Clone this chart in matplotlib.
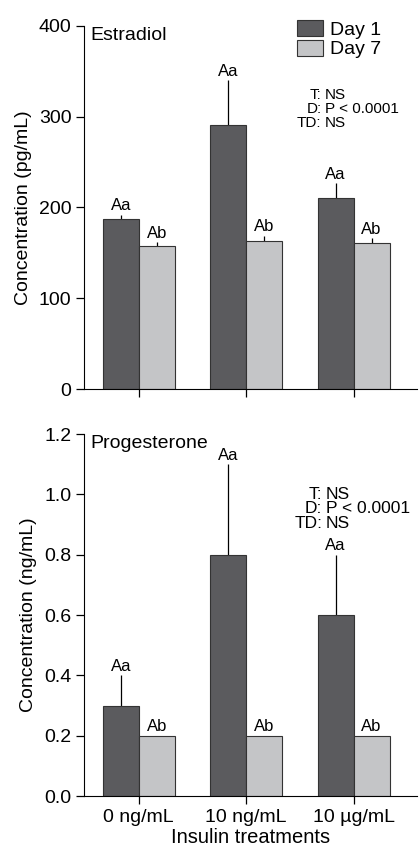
import numpy as np
import matplotlib
matplotlib.use("Agg")
import matplotlib.pyplot as plt

plt.rcParams['font.family'] = ['Liberation Sans', 'DejaVu Sans']

treatments = ['0 ng/mL', '10 ng/mL', '10 µg/mL']
series = ['Day 1', 'Day 7']

# estradiol (pg/mL): means and upper error
e2_day1 = [187, 291, 210]
e2_day1_err = [5, 49, 17]
e2_day7 = [158, 163, 161]
e2_day7_err = [4, 6, 5]
e2_letters_day1 = ['Aa', 'Aa', 'Aa']
e2_letters_day7 = ['Ab', 'Ab', 'Ab']

# progesterone (ng/mL)
p4_day1 = [0.3, 0.8, 0.6]
p4_day1_err = [0.1, 0.3, 0.2]
p4_day7 = [0.2, 0.2, 0.2]
p4_day7_err = [0, 0, 0]
p4_letters_day1 = ['Aa', 'Aa', 'Aa']
p4_letters_day7 = ['Ab', 'Ab', 'Ab']

stats_keys = ['T:', 'D:', 'TD:']
stats_vals = ['NS', 'P < 0.0001', 'NS']

dark = '#5b5b5e'
light = '#c4c5c7'
W, H = 419, 846

fig = plt.figure(figsize=(W / 100, H / 100), dpi=100)
ax1 = fig.add_axes([84 / W, 1 - 389 / H, 333 / W, 363 / H])
ax2 = fig.add_axes([84 / W, 1 - 796 / H, 333 / W, 362 / H])

x = np.arange(len(treatments))
bw = 0.335


def draw_panel(ax, d1, e1, d7, e7, l1, l7, ylim, yticks, fmt, ylabel, title,
               stat_y, stat_x, stat_size):
    b1 = ax.bar(x - bw / 2, d1, bw, color=dark, edgecolor='#333333', linewidth=0.8,
                label=series[0], zorder=2)
    b7 = ax.bar(x + bw / 2, d7, bw, color=light, edgecolor='#333333', linewidth=0.8,
                label=series[1], zorder=2)
    ax.errorbar(x - bw / 2, d1, yerr=[np.zeros(3), e1], fmt='none', ecolor='black',
                elinewidth=0.9, capsize=0, zorder=1)
    ax.errorbar(x + bw / 2, d7, yerr=[np.zeros(3), e7], fmt='none', ecolor='black',
                elinewidth=0.9, capsize=0, zorder=1)
    for i in range(3):
        ax.annotate(l1[i], (x[i] - bw / 2, d1[i] + e1[i]), xytext=(0, 1),
                    textcoords='offset points', ha='center', va='bottom', fontsize=12)
        ax.annotate(l7[i], (x[i] + bw / 2, d7[i] + e7[i]), xytext=(0, 1),
                    textcoords='offset points', ha='center', va='bottom', fontsize=12)
    ax.set_xlim(-0.51, 2.59)
    ax.set_ylim(*ylim)
    ax.set_yticks(yticks)
    ax.set_yticklabels([fmt.format(v) for v in yticks])
    ax.set_xticks(x)
    ax.spines['top'].set_visible(False)
    ax.spines['right'].set_visible(False)
    ax.tick_params(direction='out', length=5.5, width=0.9, labelsize=14)
    ax.set_ylabel(ylabel, fontsize=14, labelpad=5)
    ax.text(0.018, 0.997, title, transform=ax.transAxes, ha='left', va='top', fontsize=14)
    for k, v, yy in zip(stats_keys, stats_vals, stat_y):
        ax.text(stat_x, yy, k, transform=ax.transAxes, ha='right', va='center',
                fontsize=stat_size)
        ax.text(stat_x + 0.011, yy, v, transform=ax.transAxes, ha='left', va='center',
                fontsize=stat_size)
    return b1, b7


draw_panel(ax1, e2_day1, e2_day1_err, e2_day7, e2_day7_err, e2_letters_day1,
           e2_letters_day7, (0, 400), [0, 100, 200, 300, 400], '{:.0f}',
           'Concentration (pg/mL)', 'Estradiol', [0.81, 0.772, 0.733], 0.713, 11)
ax1.set_xticklabels([])

draw_panel(ax2, p4_day1, p4_day1_err, p4_day7, p4_day7_err, p4_letters_day1,
           p4_letters_day7, (0, 1.2), [0, 0.2, 0.4, 0.6, 0.8, 1.0, 1.2], '{:.1f}',
           'Concentration (ng/mL)', 'Progesterone', [0.834, 0.793, 0.754], 0.716, 12.5)
ax2.set_xticklabels(treatments)
ax2.set_xlabel('Insulin treatments', fontsize=14.5, labelpad=2)

ax1.legend(loc='upper left', bbox_to_anchor=(297 / W, 1 - 20 / H),
           bbox_transform=fig.transFigure, frameon=False, fontsize=14,
           handlelength=1.34, handleheight=0.88, handletextpad=0.36,
           labelspacing=0.05, borderpad=0, borderaxespad=0)

fig.savefig('out.png', dpi=100)
